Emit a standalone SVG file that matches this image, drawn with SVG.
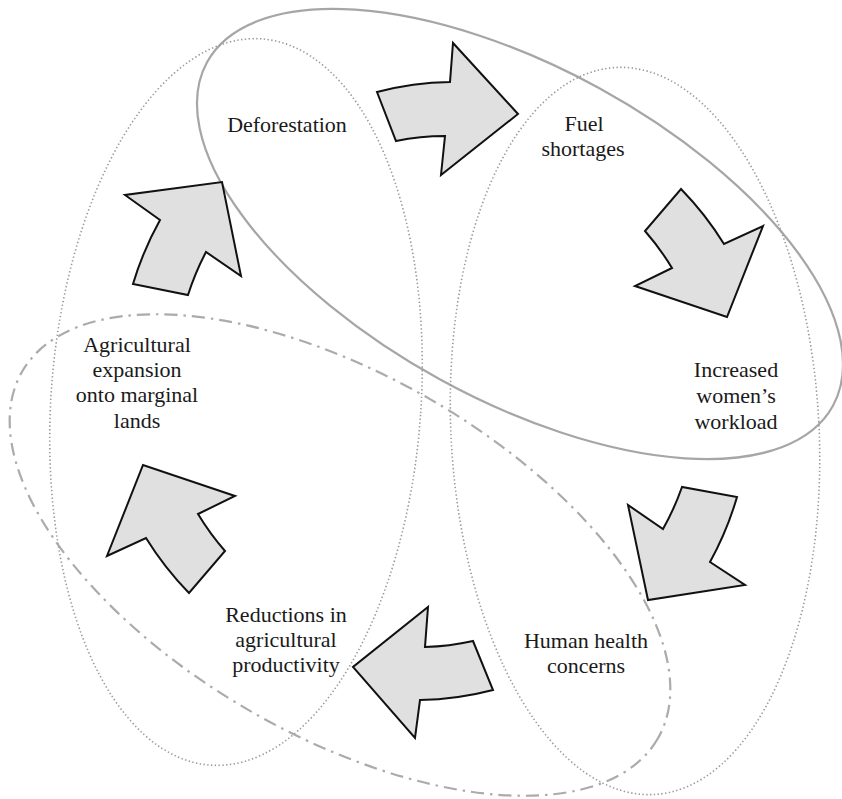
<svg xmlns="http://www.w3.org/2000/svg" width="842" height="799" viewBox="0 0 842 799">
<style>
.bg{fill:#ffffff}
.solid{fill:none;stroke:#a6a6a6;stroke-width:2.2}
.dotted{fill:none;stroke:#9a9a9a;stroke-width:1.6;stroke-dasharray:1.4 2.4}
.dashdot{fill:none;stroke:#ababab;stroke-width:2.2;stroke-dasharray:13 6 2.5 6}
.arrow{fill:#e0e0e0;stroke:#111111;stroke-width:2;stroke-linejoin:miter}
.lbl{font-family:"Liberation Serif","Times New Roman",serif;font-size:22px;fill:#1a1a1a;text-anchor:middle}
</style>
<rect class="bg" x="0" y="0" width="842" height="799"/>
<g id="groupings">
  <ellipse class="solid" cx="520" cy="234" rx="357" ry="166" transform="rotate(28.75 520 234)"/>
  <ellipse class="dotted" cx="236" cy="402" rx="185" ry="364" transform="rotate(4 236 402)"/>
  <ellipse class="dotted" cx="635" cy="431" rx="184" ry="364" transform="rotate(-3 635 431)"/>
  <ellipse class="dashdot" cx="340" cy="555" rx="367" ry="180" transform="rotate(30 340 555)"/>
</g>
<g id="connectors">
  <path class="arrow" d="M377,92 A305,305 0 0 1 450,82 L453,43 L518,114 L441,175 L445,136 A255,255 0 0 0 396,141 Z"/>
  <path class="arrow" d="M681,189 A320,320 0 0 1 724,244 L763,226 L727,317 L635,286 L672,268 A265,265 0 0 0 645,231 Z"/>
  <path class="arrow" d="M737,497 A320,320 0 0 1 710,562 L745,585 L648,600 L628,505 L663,529 A265,265 0 0 0 682,487 Z"/>
  <path class="arrow" d="M493,690 A305,305 0 0 1 420,700 L415,738 L353,667 L428,607 L425,647 A255,255 0 0 0 473,641 Z"/>
  <path class="arrow" d="M189,593 A320,320 0 0 1 146,538 L107,556 L143,465 L235,496 L198,514 A265,265 0 0 0 225,551 Z"/>
  <path class="arrow" d="M133,284 A320,320 0 0 1 160,220 L125,195 L222,182 L241,276 L206,252 A265,265 0 0 0 188,295 Z"/>
</g>
<g id="deforestation">
  <text class="lbl" x="287" y="132">Deforestation</text>
</g>
<g id="fuel-shortages">
  <text class="lbl" x="584" y="131">Fuel</text>
  <text class="lbl" x="583" y="156">shortages</text>
</g>
<g id="womens-workload">
  <text class="lbl" x="736" y="377">Increased</text>
  <text class="lbl" x="736" y="403">women’s</text>
  <text class="lbl" x="736" y="429">workload</text>
</g>
<g id="human-health">
  <text class="lbl" x="586" y="648">Human health</text>
  <text class="lbl" x="586" y="673">concerns</text>
</g>
<g id="reductions">
  <text class="lbl" x="286" y="622">Reductions in</text>
  <text class="lbl" x="286" y="647">agricultural</text>
  <text class="lbl" x="286" y="672">productivity</text>
</g>
<g id="agricultural-expansion">
  <text class="lbl" x="137" y="352">Agricultural</text>
  <text class="lbl" x="137" y="377">expansion</text>
  <text class="lbl" x="137" y="402">onto marginal</text>
  <text class="lbl" x="137" y="428">lands</text>
</g>
</svg>
